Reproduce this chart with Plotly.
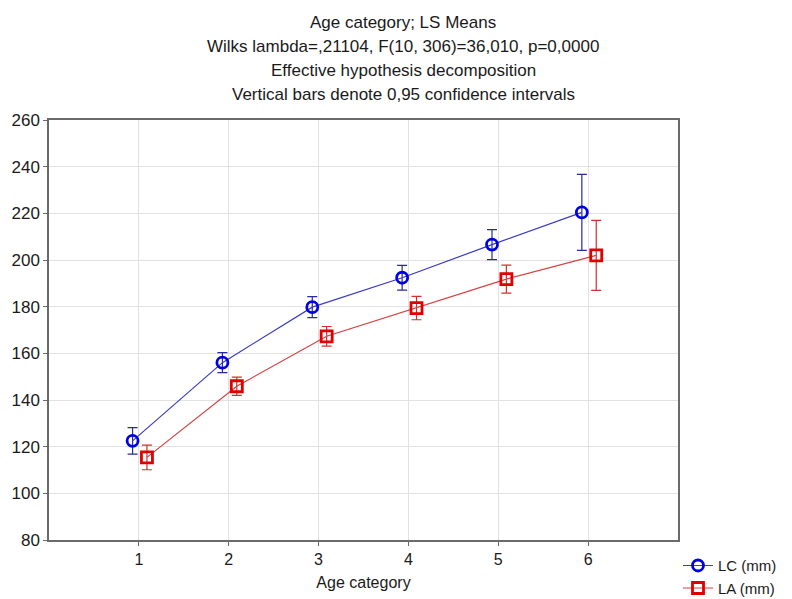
import plotly.graph_objects as go

# Age categories and LS means with 95% confidence half-widths
age_categories = [1, 2, 3, 4, 5, 6]
lc_means = [122.5, 156.0, 179.8, 192.4, 206.6, 220.4]
lc_ci = [5.7, 4.3, 4.5, 5.3, 6.4, 16.3]
la_means = [115.4, 145.9, 167.3, 179.4, 191.8, 202.0]
la_ci = [5.3, 3.9, 4.2, 5.0, 6.0, 15.0]

tick_vals = [1, 2, 3, 4, 5, 6]
y_ticks = [80, 100, 120, 140, 160, 180, 200, 220, 240, 260]

title_lines = [
    "Age category; LS Means",
    "Wilks lambda=,21104, F(10, 306)=36,010, p=0,0000",
    "Effective hypothesis decomposition",
    "Vertical bars denote 0,95 confidence intervals",
]

# small horizontal dodge so the two series do not overlap
lc_x = [a - 0.07 for a in age_categories]
la_x = [a + 0.09 for a in age_categories]

FONT = "Liberation Sans, Arial, sans-serif"

fig = go.Figure()
fig.add_trace(go.Scatter(
    x=lc_x, y=lc_means, name="LC (mm)", mode="lines+markers",
    line=dict(color="#3a3ac8", width=1.2),
    marker=dict(symbol="circle-open", size=11, color="#0000e6", line=dict(width=2.8)),
    error_y=dict(type="data", array=lc_ci, visible=True, color="#2a2a9a", thickness=1.2, width=5),
))
fig.add_trace(go.Scatter(
    x=la_x, y=la_means, name="LA (mm)", mode="lines+markers",
    line=dict(color="#d84040", width=1.2),
    marker=dict(symbol="square-open", size=11, color="#e00000", line=dict(width=2.8)),
    error_y=dict(type="data", array=la_ci, visible=True, color="#d03030", thickness=1.2, width=5),
))

for i, t in enumerate(title_lines):
    fig.add_annotation(
        text=t, xref="paper", yref="paper", x=0.563, y=1.0, xanchor="center", yanchor="middle",
        yshift=(120 - 22 - 24 * i), showarrow=False,
        font=dict(family=FONT, size=17, color="#1a1a1a"),
    )

fig.update_xaxes(
    range=[0, 7], tickvals=tick_vals, ticktext=[str(v) for v in tick_vals],
    showgrid=True, gridcolor="#e2e2e2", gridwidth=1, zeroline=False,
    showline=True, linecolor="#6a6a6a", linewidth=1.5, mirror=True,
    ticks="outside", ticklen=4, tickcolor="#6a6a6a",
    tickfont=dict(family=FONT, size=16, color="#1a1a1a"),
    title=dict(text="Age category", font=dict(family=FONT, size=16, color="#1a1a1a"), standoff=10),
)
fig.update_yaxes(
    range=[80, 260], tickvals=y_ticks,
    showgrid=True, gridcolor="#e2e2e2", gridwidth=1, zeroline=False,
    showline=True, linecolor="#6a6a6a", linewidth=1.5, mirror=True,
    ticks="outside", ticklen=4, tickcolor="#6a6a6a",
    tickfont=dict(family=FONT, size=17, color="#1a1a1a"),
)

fig.update_layout(
    width=792, height=599,
    margin=dict(l=49, r=114, t=120, b=59, autoexpand=False),
    paper_bgcolor="white", plot_bgcolor="white",
    showlegend=True,
    legend=dict(
        x=1.0, y=-0.022, xanchor="left", yanchor="top",
        font=dict(family=FONT, size=15, color="#1a1a1a"),
        bgcolor="rgba(0,0,0,0)", tracegroupgap=0, itemwidth=30,
    ),
)

fig.write_html("out.html")
